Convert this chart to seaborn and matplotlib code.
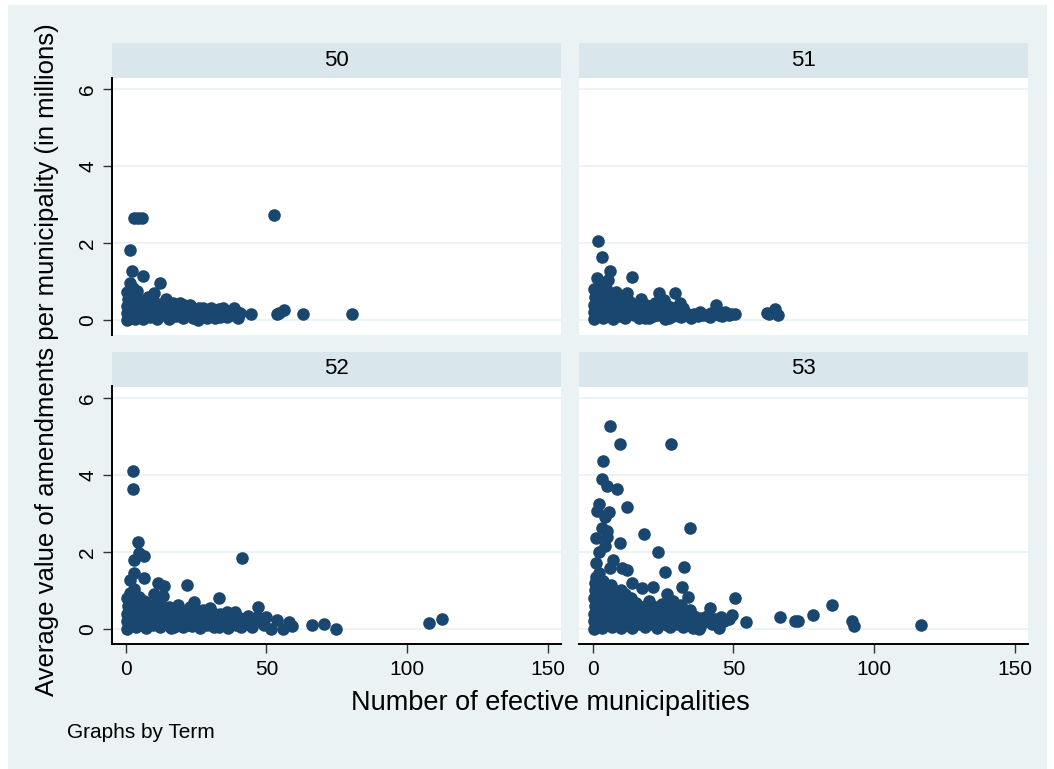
import matplotlib
matplotlib.use("Agg")
import matplotlib.pyplot as plt
import pandas as pd
import seaborn as sns
from matplotlib.patches import Rectangle

# Legislative terms shown as panels
terms = [50, 51, 52, 53]

# Term 50: number of effective municipalities vs. average amendment value (millions)
x_50 = [0.3, 0.6, 0.4, 0.8, 0.5, 1.5, 2.1, 1.6,
        1.8, 2.0, 1.9, 2.3, 2.6,
        3.2, 3.5, 3.4, 3.8, 4.1,
        4.6, 5.0, 5.3, 6.0,
        3.0, 4.3, 5.7,
        6.2, 6.8, 7.2, 7.8,
        8.5, 9.0, 9.6, 10.0,
        11.0, 11.5, 12.0, 12.3,
        13.2, 13.8, 14.3,
        15.5, 16.0, 16.8, 17.8, 18.5, 19.4,
        20.2, 21.0, 22.0, 23.0, 23.5, 24.5,
        25.8, 26.0, 27.0, 28.2, 29.0, 30.4, 31.0,
        32.5, 33.5, 34.5, 35.5, 36.5, 37.5, 38.4, 39.5, 40.5,
        1.0, 2.7, 4.4, 5.8, 7.5, 9.3, 10.5, 12.5, 14.8, 16.5, 17.5, 19.0,
        20.8, 22.5, 24.0, 25.5, 27.5, 29.5, 31.8, 33.0, 36.0, 38.0, 40.0,
        44.6, 52.7, 53.6, 54.5, 56.3, 63.0, 80.4]
y_50 = [0.00, 0.18, 0.36, 0.54, 0.72, 0.95, 1.28, 1.82,
        0.08, 0.28, 0.46, 0.64, 0.82,
        0.02, 0.22, 0.40, 0.58, 0.76,
        0.10, 0.32, 0.50, 1.14,
        2.65, 2.65, 2.65,
        0.02, 0.24, 0.44, 0.60,
        0.08, 0.30, 0.50, 0.69,
        0.03, 0.22, 0.97, 0.42,
        0.12, 0.34, 0.54,
        0.02, 0.24, 0.44, 0.10, 0.32, 0.45,
        0.05, 0.22, 0.36, 0.38, 0.12, 0.28,
        0.00, 0.31, 0.15, 0.25, 0.05, 0.31, 0.16,
        0.22, 0.08, 0.31, 0.18, 0.22, 0.12, 0.31, 0.20, 0.17,
        0.10, 0.15, 0.30, 0.15, 0.12, 0.18, 0.40, 0.15, 0.25, 0.10, 0.30, 0.15,
        0.38, 0.15, 0.05, 0.20, 0.32, 0.20, 0.05, 0.28, 0.08, 0.18, 0.05,
        0.15, 2.72, 0.16, 0.18, 0.26, 0.16, 0.15]

# Term 51
x_51 = [0.3, 0.5, 0.4, 0.8, 0.6, 1.5, 2.0, 3.3, 6.2, 5.4,
        1.8, 2.2, 2.0, 2.6, 2.8,
        3.6, 4.0, 4.2, 4.5, 4.8,
        5.6, 6.0, 6.5,
        7.2, 7.8, 8.3, 8.6, 9.5, 10.2, 10.8, 12.2, 11.6, 12.5, 13.9, 13.5, 14.5,
        15.5, 16.5, 17.3, 17.8, 19.0, 20.0, 21.0, 22.0, 23.5, 23.0, 24.2, 25.4,
        25.5, 26.5, 27.5, 28.5, 29.2, 30.0, 31.0, 31.5,
        33.0, 34.5, 36.0, 37.5, 39.0, 40.5, 42.0, 43.7, 45.0, 47.0, 48.5, 50.6,
        1.0, 3.0, 5.0, 6.8, 8.0, 9.0, 11.0, 12.8, 14.0, 15.8, 18.5, 19.5, 21.5,
        22.5, 24.8, 26.0, 27.0, 29.0, 30.5, 32.0, 35.0, 38.0, 41.5, 44.5, 46.0, 49.0,
        61.9, 62.6, 64.6, 65.8]
y_51 = [0.02, 0.20, 0.40, 0.60, 0.80, 1.08, 2.06, 1.63, 1.28, 1.04,
        0.10, 0.30, 0.50, 0.70, 0.88,
        0.04, 0.24, 0.44, 0.64, 0.82,
        0.12, 0.34, 0.52,
        0.02, 0.22, 0.74, 0.42, 0.10, 0.30, 0.50, 0.71, 0.05, 0.24, 1.12, 0.44, 0.12,
        0.32, 0.04, 0.54, 0.20, 0.38, 0.06, 0.26, 0.45, 0.71, 0.12, 0.30, 0.52,
        0.02, 0.20, 0.35, 0.10, 0.71, 0.25, 0.43, 0.08,
        0.18, 0.12, 0.15, 0.10, 0.14, 0.12, 0.18, 0.39, 0.14, 0.22, 0.12, 0.16,
        0.30, 0.15, 0.45, 0.12, 0.55, 0.25, 0.15, 0.50, 0.30, 0.15, 0.05, 0.25, 0.10,
        0.30, 0.10, 0.40, 0.05, 0.30, 0.10, 0.30, 0.05, 0.20, 0.08, 0.20, 0.10, 0.15,
        0.17, 0.15, 0.28, 0.13]

# Term 52
x_52 = [0.3, 0.5, 0.4, 0.7, 0.6, 1.5, 1.5, 3.0, 3.0, 2.5, 2.5, 4.2, 4.8, 6.5, 6.3,
        1.8, 2.0, 2.2, 2.5, 2.9,
        3.5, 3.8, 4.0, 4.3, 4.6,
        5.4, 5.8, 6.2, 6.6,
        7.2, 7.8, 8.3, 8.8,
        9.5, 10.1, 10.2, 10.8, 11.3, 11.6,
        12.0, 12.6, 13.1, 13.2, 13.7, 14.2, 14.8,
        15.5, 16.0, 16.5, 17.3, 18.0, 18.5, 19.0, 20.0, 20.5, 21.5, 21.8, 22.5,
        23.0, 23.5, 24.4, 24.5, 25.5, 26.5, 27.0, 28.0, 29.0, 30.0, 30.2,
        31.5, 32.5, 33.2, 33.5, 34.5, 35.5, 36.5, 37.5, 38.7, 39.0, 40.0,
        41.3, 41.5, 42.5, 43.5, 44.5, 45.5, 47.0, 48.0, 50.0, 51.5,
        1.0, 3.0, 5.0, 7.0, 8.0, 9.5, 11.0, 12.5, 14.0, 15.0, 17.0, 18.0, 19.5,
        21.0, 22.0, 24.0, 26.0, 27.5, 28.5, 31.0, 33.0, 34.0, 36.0, 37.0, 39.5,
        41.0, 43.0, 45.0, 46.5, 49.0,
        53.9, 56.0, 58.0, 59.2, 66.1, 70.6, 74.6, 107.7, 112.5]
y_52 = [0.00, 0.20, 0.40, 0.60, 0.80, 0.93, 1.27, 1.45, 1.79, 3.63, 4.11, 2.27, 1.97, 1.90, 1.32,
        0.10, 0.30, 0.50, 0.70, 1.05,
        0.04, 0.24, 0.44, 0.64, 0.84,
        0.12, 0.34, 0.54, 0.74,
        0.02, 0.22, 0.42, 0.62,
        0.10, 0.91, 0.30, 0.50, 1.20, 0.72,
        0.04, 0.24, 0.86, 0.46, 1.12, 0.12, 0.36,
        0.58, 0.02, 0.22, 0.42, 0.10, 0.62, 0.30, 0.48, 0.04, 0.20, 1.15, 0.40,
        0.58, 0.08, 0.71, 0.28, 0.46, 0.02, 0.20, 0.38, 0.10, 0.54, 0.28,
        0.04, 0.20, 0.80, 0.40, 0.10, 0.30, 0.02, 0.20, 0.45, 0.10, 0.30,
        1.84, 0.15, 0.25, 0.35, 0.12, 0.20, 0.56, 0.22, 0.32, 0.00,
        0.15, 0.30, 0.30, 0.45, 0.10, 0.50, 0.20, 0.60, 0.55, 0.10, 0.05, 0.40, 0.10,
        0.35, 0.10, 0.45, 0.30, 0.50, 0.20, 0.42, 0.05, 0.28, 0.45, 0.10, 0.22,
        0.05, 0.18, 0.05, 0.30, 0.10,
        0.23, 0.00, 0.19, 0.08, 0.10, 0.13, 0.00, 0.15, 0.26]

# Term 53
x_53 = [6.1, 9.6, 27.9, 3.5, 3.2, 5.1, 8.5, 2.3, 1.5, 5.8, 4.3, 12.3,
        3.2, 5.1, 1.3, 4.9, 18.2, 34.6, 9.6, 4.3, 2.3, 23.3,
        1.3, 7.3, 6.1, 10.3, 12.0, 32.5, 25.7,
        0.7, 13.8, 17.4, 21.5, 31.7, 26.5, 50.7, 33.9,
        0.3, 0.6, 0.4, 0.8, 0.5, 0.9, 1.2,
        1.8, 2.0, 2.2, 1.9, 2.4, 2.6, 2.2,
        3.4, 3.6, 3.8, 3.5, 4.0, 4.2, 3.8,
        5.0, 5.3, 5.5, 5.2, 5.8, 6.4,
        6.8, 7.0, 7.3, 7.6, 7.8,
        8.5, 8.8, 9.2, 9.5, 10.0,
        10.2, 10.6, 11.0, 11.4,
        12.0, 12.5, 13.0, 13.5,
        14.0, 14.5, 15.0, 15.5,
        16.5, 17.0, 17.5, 18.5, 19.0, 19.5, 20.0,
        21.0, 21.5, 22.0, 23.0, 23.5, 24.0, 24.5,
        25.5, 26.0, 27.0, 27.5, 28.0, 28.5, 29.5,
        30.0, 30.5, 31.5, 32.0, 32.5, 33.5, 34.0, 35.0, 35.5, 36.5,
        1.0, 3.0, 4.5, 6.0, 7.5, 9.0, 11.5, 13.0, 14.5, 16.0, 18.0, 20.5,
        22.5, 25.0, 26.5, 29.0, 31.0, 33.0, 34.5, 37.0, 36.0, 38.0, 40.5, 43.5,
        37.6, 38.5, 39.3, 40.0, 41.8, 42.5, 44.8, 45.4, 46.5, 48.5, 49.5, 54.3,
        66.5, 71.9, 73.1, 78.1, 84.9, 92.0, 93.0, 116.8]
y_53 = [5.27, 4.80, 4.81, 4.36, 3.90, 3.71, 3.63, 3.26, 3.07, 3.05, 2.90, 3.18,
        2.62, 2.55, 2.36, 2.40, 2.47, 2.62, 2.24, 2.16, 2.01, 1.99,
        1.71, 1.79, 1.58, 1.58, 1.52, 1.60, 1.47,
        1.19, 1.19, 1.06, 1.08, 1.08, 0.91, 0.81, 0.82,
        0.00, 0.20, 0.40, 0.60, 0.80, 1.00, 1.35,
        0.10, 0.30, 0.50, 0.70, 0.90, 1.10, 1.45,
        0.02, 0.22, 0.42, 0.62, 0.82, 1.02, 1.25,
        0.12, 0.32, 0.52, 0.72, 0.92, 1.15,
        0.04, 0.24, 0.44, 0.64, 0.86,
        0.14, 0.34, 0.54, 0.78, 1.00,
        0.02, 0.24, 0.44, 0.66,
        0.12, 0.34, 0.56, 0.80,
        0.02, 0.22, 0.46, 0.68,
        0.12, 0.34, 0.58, 0.04, 0.24, 0.46, 0.72,
        0.12, 0.34, 0.58, 0.02, 0.22, 0.46, 0.66,
        0.12, 0.34, 0.56, 0.04, 0.24, 0.72, 0.44,
        0.12, 0.32, 0.62, 0.04, 0.24, 0.46, 0.12, 0.32, 0.02, 0.18,
        0.10, 0.30, 0.10, 0.60, 0.15, 0.40, 0.90, 0.10, 0.55, 0.40, 0.15, 0.55,
        0.25, 0.50, 0.10, 0.15, 0.45, 0.10, 0.50, 0.15, 0.35, 0.05, 0.35, 0.25,
        0.00, 0.28, 0.23, 0.22, 0.54, 0.14, 0.02, 0.32, 0.20, 0.26, 0.36, 0.19,
        0.32, 0.22, 0.22, 0.36, 0.62, 0.21, 0.08, 0.10]

x_ticks = [0, 50, 100, 150]
y_ticks = [0, 2, 4, 6]

NAVY = "#1a476f"
GRAPH_BG = "#eaf2f3"
STRIP_BG = "#d9e6eb"

df = pd.concat(
    [pd.DataFrame({"Term": t, "eff": xs, "avg": ys})
     for t, xs, ys in zip(terms, [x_50, x_51, x_52, x_53], [y_50, y_51, y_52, y_53])],
    ignore_index=True,
)

sns.set_theme(style="white")
plt.rcParams["font.family"] = ["Liberation Sans", "DejaVu Sans"]

g = sns.relplot(
    data=df, x="eff", y="avg", col="Term", col_order=terms, col_wrap=2,
    kind="scatter", s=82, color=NAVY, linewidth=0,
    height=3.5, aspect=1.5,
    facet_kws=dict(sharex=True, sharey=True),
)
fig = g.figure
fig.set_size_inches(10.54, 7.69)
fig.patch.set_facecolor("white")
W, H = 1054, 769

# light graph region behind the panels
fig.patches.append(Rectangle((8 / W, 0), (1047 - 8) / W, (764) / H,
                             transform=fig.transFigure, facecolor=GRAPH_BG,
                             edgecolor="none", zorder=-10))

boxes = {50: (112, 77.5, 561, 335), 51: (579, 77.5, 1028, 335),
         52: (112, 386.5, 561, 644), 53: (579, 386.5, 1028, 644)}
strip_px = 35

g.set_titles("")
g.set_axis_labels("", "")

for i, (t, ax) in enumerate(zip(terms, g.axes.flat)):
    x0, y0, x1, y1 = boxes[t]
    ax.set_position([x0 / W, 1 - y1 / H, (x1 - x0) / W, (y1 - y0) / H])
    ax.set_facecolor("white")
    ax.set_xlim(-4.9, 154.7)
    ax.set_ylim(-0.39, 6.3)
    ax.set_xticks(x_ticks)
    ax.set_yticks(y_ticks)
    ax.set_title("")
    ax.set_xlabel("")
    ax.set_ylabel("")
    for ytk in y_ticks:
        ax.axhline(ytk, color=GRAPH_BG, lw=1.3, zorder=0)
    left_col = i % 2 == 0
    bottom_row = i >= 2
    for side in ["top", "right"]:
        ax.spines[side].set_visible(False)
    ax.spines["left"].set_visible(left_col)
    ax.spines["bottom"].set_visible(bottom_row)
    for side in ["left", "bottom"]:
        ax.spines[side].set_color("black")
        ax.spines[side].set_linewidth(1.4)
    ax.tick_params(axis="y", left=left_col, labelleft=left_col, labelrotation=90,
                   length=6.5, width=1.0, color="#333333", labelsize=15, pad=4,
                   labelcolor="black")
    ax.tick_params(axis="x", bottom=bottom_row, labelbottom=bottom_row,
                   length=6.5, width=1.0, color="#333333", labelsize=15, pad=5,
                   labelcolor="black")
    for lbl in ax.get_yticklabels():
        lbl.set_verticalalignment("center")
    # panel header strip
    hfrac = strip_px / (y1 - y0)
    ax.add_patch(Rectangle((0, 1), 1, hfrac, transform=ax.transAxes,
                           facecolor=STRIP_BG, edgecolor="none", clip_on=False))
    ax.text(0.5, 1 + hfrac / 2, str(t), transform=ax.transAxes,
            ha="center", va="center", fontsize=16, color="black")

fig.text(47 / W, 1 - 360 / H,
         "Average value of amendments per municipality (in millions)",
         rotation=90, ha="center", va="center", fontsize=18.5, color="black")
fig.text(550 / W, 1 - 703 / H, "Number of efective municipalities",
         ha="center", va="center", fontsize=19.5, color="black")
fig.text(67 / W, 1 - 732 / H, "Graphs by Term",
         ha="left", va="center", fontsize=15, color="black")

fig.savefig("out.png", dpi=100)
